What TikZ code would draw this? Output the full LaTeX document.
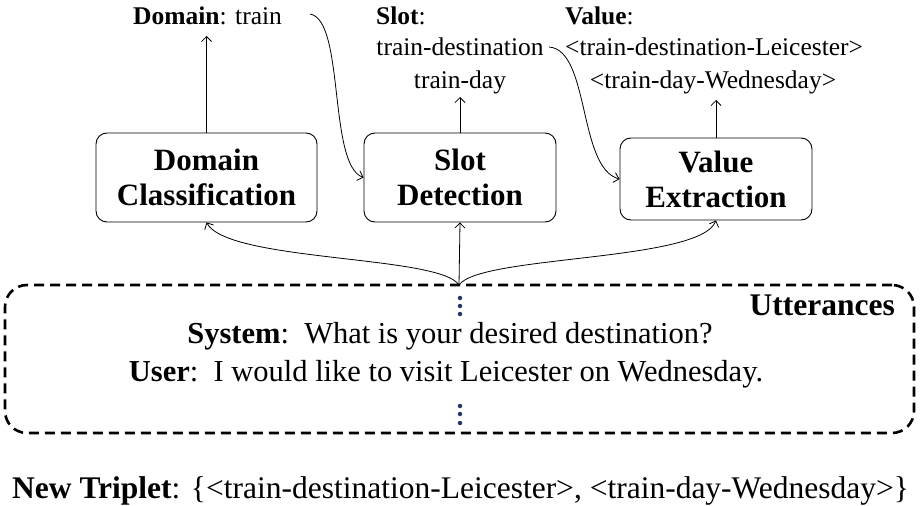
\documentclass[tikz,border=0pt]{standalone}
\usepackage{fontspec}
\setmainfont{Liberation Serif}
\usetikzlibrary{arrows.meta}
\definecolor{dotblue}{HTML}{1F3864}
\tikzset{
  procbox/.style={draw, line width=0.9pt, rounded corners=11pt, align=center, font=\fontsize{31}{35}\selectfont\bfseries, inner sep=0pt},
  lbl/.style={inner sep=0pt, font=\fontsize{25.5}{28}\selectfont},
  conn/.style={line width=0.8pt, -{Straight Barb[length=5pt,width=10pt]}},
  uttbox/.style={draw, dashed, line width=2.6pt, dash pattern=on 10pt off 6pt, rounded corners=22pt, inner sep=0pt},
  utt/.style={inner sep=0pt, font=\fontsize{30.5}{36}\selectfont},
  dot/.style={fill=dotblue, draw=none, circle, minimum size=4.5pt, inner sep=0pt},
}
\begin{document}
\begin{tikzpicture}[x=1pt,y=-1pt]
\useasboundingbox (0,0) rectangle (922,506);
% process boxes
\node[procbox, minimum width=221pt, minimum height=89pt] (dc) at (206.5,177.5) {Domain\\Classification};
\node[procbox, minimum width=192pt, minimum height=89pt] (sd) at (460,177.5) {Slot\\Detection};
\node[procbox, minimum width=192pt, minimum height=82pt] (ve) at (716,179) {Value\\Extraction};
% top labels
\node[lbl, anchor=base west] (dl) at (133,24) {\textbf{Domain}: train};
\node[lbl, anchor=base west] (sl) at (376,24) {\textbf{Slot}:};
\node[lbl, anchor=base] (s1) at (460,56) {train-destination};
\node[lbl, anchor=base] (s2) at (460,88) {train-day};
\node[lbl, anchor=base west] (vl) at (565,24) {\textbf{Value}:};
\node[lbl, anchor=base west] (v1) at (565,56) {<train-destination-Leicester>};
\node[lbl, anchor=base] (v2) at (713,88) {<train-day-Wednesday>};
% utterance box
\node[uttbox, minimum width=909pt, minimum height=148pt] (ub) at (459.5,359) {};
\node[utt, anchor=base east, font=\fontsize{31.5}{34}\selectfont\bfseries] (ul) at (895,315) {Utterances};
\node[utt, anchor=base] (sys) at (450,343) {\textbf{System}:\ \ What is your desired destination?};
\node[utt, anchor=base] (usr) at (446,381) {\textbf{User}:\ \ I would like to visit Leicester on Wednesday.};
\node[dot] (d1) at (460,298) {};
\node[dot] (d2) at (460,306) {};
\node[dot] (d3) at (460,314) {};
\node[dot] (d4) at (460,406) {};
\node[dot] (d5) at (460,414) {};
\node[dot] (d6) at (460,423) {};
% bottom
\node[utt, anchor=base west, font=\fontsize{31.5}{36}\selectfont] (nt) at (12,498) {\textbf{New Triplet}: \{<train-destination-Leicester>, <train-day-Wednesday>\}};
% connectors
\coordinate (c1s) at (310,14);
\coordinate (c2s) at (549,47);
\coordinate (ut) at (459,285);
\draw[conn] (dc.north) -- (dc.north |- 0,36);
\draw[conn] (sd.north) -- (sd.north |- 0,97);
\draw[conn] (ve.north) -- (ve.north |- 0,100);
\draw[conn] (c1s) .. controls (345,20) and (328,165) .. (sd.west);
\draw[conn] (c2s) .. controls (590,50) and (578,168) .. (ve.west);
\draw[conn] (ut) -- (sd.south);
\draw[conn] (ut) .. controls (440,255) and (228,262) .. (dc.south);
\draw[conn] (ut) .. controls (480,255) and (700,262) .. (ve.south);
\end{tikzpicture}
\end{document}
